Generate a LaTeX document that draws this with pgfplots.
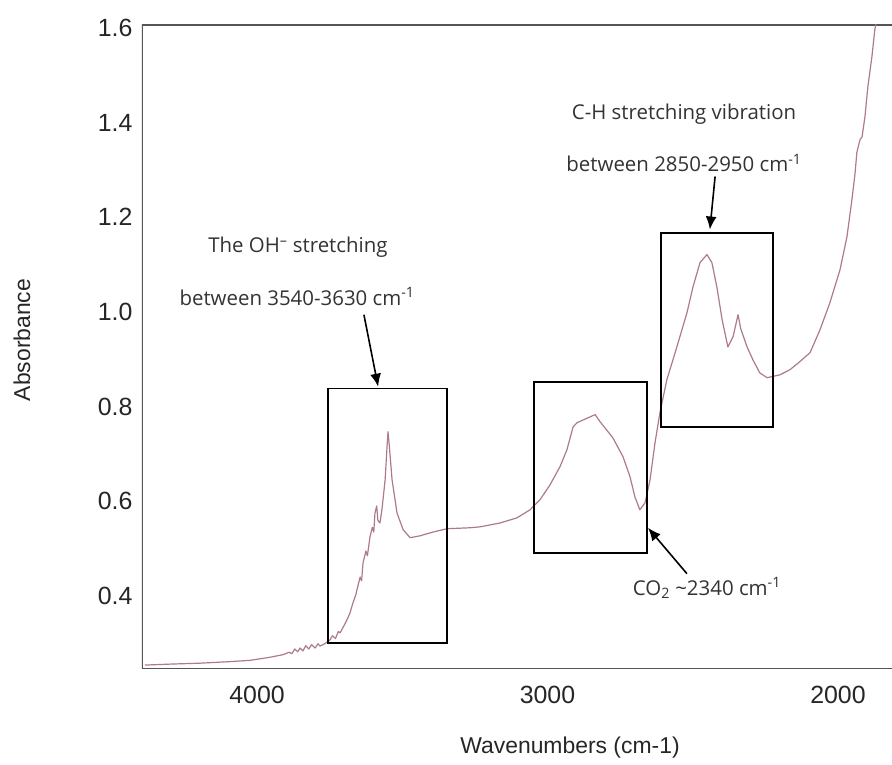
\documentclass[border=0pt]{standalone}
\usepackage{fontspec}
\setmainfont{Liberation Sans}
\newfontfamily\annfont{Open Sans}
\usepackage{pgfplots}
\pgfplotsset{compat=1.18}
\usetikzlibrary{arrows.meta}

\definecolor{spec}{RGB}{172,122,140}
\definecolor{frame}{RGB}{85,85,85}

\begin{document}
\begin{tikzpicture}[x=1bp,y=1bp]
\useasboundingbox (-142,-96) rectangle (750,669);
\begin{axis}[
    at={(0,0)}, anchor=south west,
    width=750bp, height=644bp, scale only axis,
    x dir=reverse,
    xmin=1814, xmax=4396,
    ymin=0.2457, ymax=1.606,
    xtick={2000,3000,4000},
    ytick={0.4,0.6,0.8,1.0,1.2,1.4,1.6},
    major tick length=0pt,
    axis line style={draw=none},
    /pgf/number format/assume math mode=true,
    x tick label style={font=\fontsize{25}{30}\selectfont, text=black!85, yshift=-14bp, /pgf/number format/1000 sep={}},
    y tick label style={font=\fontsize{25}{30}\selectfont, text=black!85, xshift=-6bp},
    yticklabel style={/pgf/number format/.cd, fixed, fixed zerofill, precision=1},
    clip=true,
]
% frame: top, left, bottom (right side runs off the picture)
\draw[frame, line width=2pt] (rel axis cs:1,1) -- (rel axis cs:0,1) -- (rel axis cs:0,0) -- (rel axis cs:1,0);

\addplot[spec, line width=1.2pt, line join=round] coordinates {
(4386,0.254) (4300,0.256) (4196,0.258) (4100,0.261) (4024,0.264)
(3960,0.270) (3910,0.276) (3890,0.281) (3880,0.278) (3870,0.288)
(3860,0.282) (3852,0.290) (3842,0.284) (3832,0.295) (3822,0.288)
(3812,0.297) (3800,0.290) (3790,0.299) (3783,0.294) (3770,0.298)
(3760,0.302) (3749,0.307) (3740,0.316) (3730,0.310) (3720,0.325)
(3714,0.322) (3700,0.338) (3690,0.350) (3680,0.364) (3670,0.385)
(3660,0.402) (3656,0.413) (3645,0.440) (3640,0.432) (3635,0.470)
(3625,0.495) (3620,0.485) (3611,0.525) (3603,0.545) (3598,0.535)
(3594,0.575) (3588,0.590) (3584,0.560) (3577,0.554) (3570,0.582)
(3559,0.645) (3552,0.720) (3549,0.747) (3545,0.720) (3535,0.645)
(3518,0.575) (3497,0.540) (3473,0.523) (3439,0.527) (3394,0.535)
(3346,0.542) (3267,0.544) (3232,0.546) (3164,0.554) (3105,0.565)
(3060,0.582) (3026,0.603) (2991,0.635) (2957,0.673) (2933,0.709)
(2912,0.757) (2898,0.766) (2836,0.783) (2819,0.768) (2775,0.734)
(2740,0.694) (2716,0.652) (2699,0.609) (2682,0.582) (2664,0.597)
(2647,0.645) (2630,0.723) (2613,0.787) (2589,0.857) (2568,0.899)
(2544,0.948) (2520,0.998) (2499,1.053) (2475,1.104) (2451,1.121)
(2434,1.104) (2417,1.053) (2399,0.984) (2379,0.926) (2361,0.948)
(2344,0.994) (2335,0.965) (2330,0.956) (2313,0.926) (2293,0.899)
(2269,0.871) (2244,0.861) (2200,0.867) (2165,0.878) (2131,0.895)
(2096,0.914) (2062,0.962) (2028,1.019) (1993,1.089) (1969,1.159)
(1952,1.237) (1941,1.294) (1935,1.337) (1924,1.364) (1917,1.370)
(1907,1.413) (1897,1.476) (1883,1.540) (1873,1.597) (1866,1.618)
};

% annotation boxes
\draw[black, line width=1.6pt] (axis cs:3756,0.301) rectangle (axis cs:3346,0.838);
\draw[black, line width=1.6pt] (axis cs:3046,0.491) rectangle (axis cs:2657,0.852);
\draw[black, line width=1.6pt] (axis cs:2609,0.757) rectangle (axis cs:2224,1.167);

% arrows
\draw[-{Latex[length=13bp,width=11bp]}, line width=1.6pt] (axis cs:3632,0.994) -- (axis cs:3583,0.842);
\draw[-{Latex[length=13bp,width=11bp]}, line width=1.6pt] (axis cs:2423,1.286) -- (axis cs:2441,1.174);
\draw[-{Latex[length=13bp,width=11bp]}, line width=1.6pt] (axis cs:2520,0.447) -- (axis cs:2654,0.544);

% annotation texts
\node[font=\annfont\fontsize{20.5}{24}\selectfont, text=black!80] at (axis cs:3859,1.136) {The OH\textsuperscript{–} stretching};
\node[font=\annfont\fontsize{20.5}{24}\selectfont, text=black!80] at (axis cs:3862,1.032) {between 3540-3630 cm\textsuperscript{-1}};
\node[font=\annfont\fontsize{20.5}{24}\selectfont, text=black!80] at (axis cs:2530,1.417) {C-H stretching vibration};
\node[font=\annfont\fontsize{20.5}{24}\selectfont, text=black!80] at (axis cs:2530,1.315) {between 2850-2950 cm\textsuperscript{-1}};
\node[font=\annfont\fontsize{20.5}{24}\selectfont, text=black!80] at (axis cs:2451,0.417) {CO\textsubscript{2} \textasciitilde2340 cm\textsuperscript{-1}};
\end{axis}

% axis titles
\node[rotate=90, font=\fontsize{23}{28}\selectfont, text=black!85] at (-120,329) {Absorbance};
\node[font=\fontsize{23}{28}\selectfont, text=black!85] at (428,-79) {Wavenumbers (cm-1)};
\end{tikzpicture}
\end{document}
